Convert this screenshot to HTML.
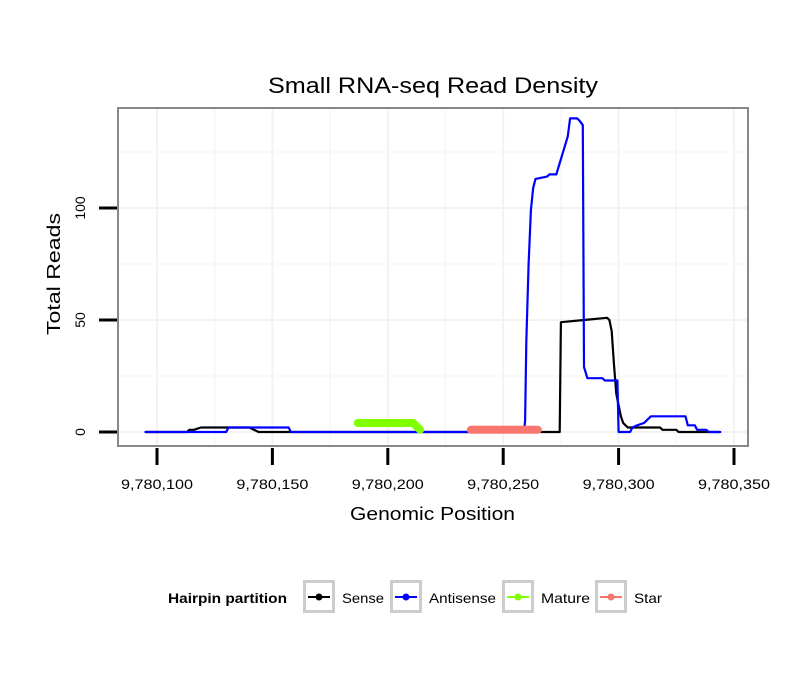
<!DOCTYPE html>
<html><head><meta charset="utf-8"><style>
body{margin:0;background:#fff;}
svg{display:block;font-family:"Liberation Sans",sans-serif;}
</style></head><body>
<svg id="chart" width="810" height="690">
<rect width="810" height="690" fill="#fff"/>
<text x="268" y="93" font-size="22" textLength="330" lengthAdjust="spacingAndGlyphs">Small RNA-seq Read Density</text>
<g id="grid"></g>
<g id="series"></g>
<rect x="118" y="108" width="630" height="338" fill="none" stroke="#888" stroke-width="2"/>
<g id="axes"></g>
<text x="350" y="520" font-size="18" textLength="165" lengthAdjust="spacingAndGlyphs">Genomic Position</text>
<text transform="translate(60,335) rotate(-90)" font-size="18" textLength="122" lengthAdjust="spacingAndGlyphs">Total Reads</text>
<g>
<text x="168" y="603" font-size="14" font-weight="bold" textLength="119" lengthAdjust="spacingAndGlyphs">Hairpin partition</text>
<g id="legend"></g>
</g>
</svg>
<script>
const xTicks=[9780100,9780150,9780200,9780250,9780300,9780350];
const xTickLabels=["9,780,100","9,780,150","9,780,200","9,780,250","9,780,300","9,780,350"];
const yTicks=[0,50,100];
const yTickLabels=["0","50","100"];
const senseX=[95,113,114,116,119,140,142,144,274.5,275,285,295,296,297,298,299,300,301,302,303,304,318,319,325,326,344];
const senseY=[0,0,1,1,2,2,1,0,0,49,50,51,50,45,30,17,12,7,4,3,2,2,1,1,0,0];
const antiX=[95,130,131,157,158,259,259.5,260,261,262,263,264,269,270,273,278,279,282,283,284.5,285,286.5,293,294,299.5,300,305,306,308,311,314,329,330,333,334,338,339,344];
const antiY=[0,0,2,2,0,0,5,40,75,99,109,113,114,115,115,132,140,140,139,137,29,24,24,23,23,0,0,2,3,4,7,7,3,3,1,1,0,0];
const matureX=[187,211,213,214];
const matureY=[4,4,2,1];
const starX=[236,265];
const starY=[1,1];
const seriesNames=["Sense","Antisense","Mature","Star"];
const seriesColors=["#000","#0000ff","#80ff00","#f8766d"];
const NS="http://www.w3.org/2000/svg";
function xs(v){return 157+(v-9780100)*115.4/50;}
function ys(v){return 432-v*2.24;}
function mk(t,a,p){const e=document.createElementNS(NS,t);for(const k in a)e.setAttribute(k,a[k]);p.appendChild(e);return e;}
const grid=document.getElementById('grid'),axes=document.getElementById('axes'),ser=document.getElementById('series');
for(let v=9780075;v<=9780375;v+=25){const x=xs(v);if(x<119||x>747)continue;const g=mk('line',{x1:x,x2:x,y1:109,y2:445,stroke:v%50===0?'#f2f2f2':'#f7f7f7','stroke-width':v%50===0?2:1.5},grid);

}
for(let v=0;v<=150;v+=25){const y=ys(v);if(y<109)continue;const g=mk('line',{x1:119,x2:747,y1:y,y2:y,stroke:v%50===0?'#f2f2f2':'#f7f7f7','stroke-width':v%50===0?2:1.5},grid);

}
xTicks.forEach((v,i)=>{const x=xs(v);const t=mk('line',{x1:x,x2:x,y1:448,y2:465,stroke:'#000','stroke-width':3},axes);


const l=mk('text',{x:x-36,y:489,'font-size':14,textLength:72,lengthAdjust:'spacingAndGlyphs'},axes);l.textContent=xTickLabels[i];

});
yTicks.forEach((v,i)=>{const y=ys(v);const t=mk('line',{x1:99,x2:117,y1:y,y2:y,stroke:'#000','stroke-width':3},axes);


const l=mk('text',{transform:`translate(85,${y}) rotate(-90)`,'text-anchor':'middle','font-size':14},axes);l.textContent=yTickLabels[i];

});
function line(X,Y,color,w,name){const d=X.map((x,i)=>(i?'L':'M')+xs(9780000+x).toFixed(1)+','+ys(Y[i]).toFixed(1)).join(' ');
const p=mk('path',{d:d,fill:'none',stroke:color,'stroke-width':w,'stroke-linejoin':'round','stroke-linecap':'round'},ser);

}
line(senseX,senseY,seriesColors[0],2.2,'sense-line');
line(antiX,antiY,seriesColors[1],2.2,'antisense-line');
line(matureX,matureY,seriesColors[2],8,'mature-line');
line(starX,starY,seriesColors[3],8,'star-line');
const lg=document.getElementById('legend');
const keyX=[303,390,502,595];
const labelX=[342,429,541,634];
const labelW=[42,67,49,28];
seriesNames.forEach((n,i)=>{const k=keyX[i];
const r=mk('rect',{x:k+1.5,y:581.5,width:29,height:30,fill:'#fff',stroke:'#ccc','stroke-width':3},lg);


mk('line',{x1:k+5,x2:k+27,y1:597,y2:597,stroke:seriesColors[i],'stroke-width':2},lg);
mk('circle',{cx:k+16,cy:597,r:3.5,fill:seriesColors[i]},lg);
const t=mk('text',{x:labelX[i],y:603,'font-size':14,textLength:labelW[i],lengthAdjust:'spacingAndGlyphs'},lg);t.textContent=n;

});
</script>
</body></html>
